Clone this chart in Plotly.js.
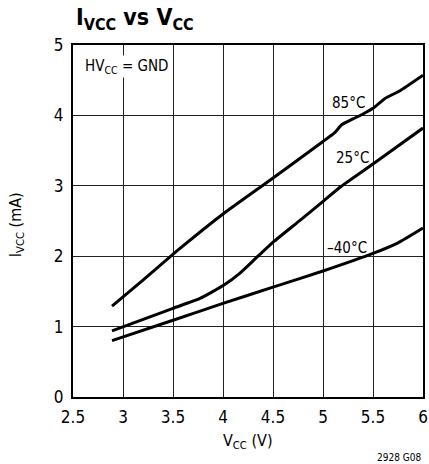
<!DOCTYPE html>
<html>
<head>
<meta charset="utf-8">
<script src="https://cdn.plot.ly/plotly-3.0.1.min.js"></script>
<style>html,body{margin:0;padding:0;background:#fff;}#chart{width:429px;height:464px;}</style>
</head>
<body>
<div id="chart"></div>
<script>
// Data
const v85 = [2.89, 3.20, 3.57, 4.01, 4.47, 5.0, 5.12, 5.19, 5.30, 5.40, 5.50, 5.62, 5.77, 6.0];
const i85 = [1.29, 1.66, 2.11, 2.61, 3.08, 3.63, 3.76, 3.87, 3.95, 4.02, 4.10, 4.24, 4.35, 4.57];
const v25 = [2.89, 3.50, 3.77, 4.01, 4.17, 4.35, 4.51, 4.77, 5.01, 5.17, 5.51, 6.0];
const i25 = [0.94, 1.26, 1.40, 1.59, 1.76, 2.00, 2.21, 2.51, 2.79, 2.98, 3.32, 3.82];
const vm40 = [2.89, 3.50, 4.00, 4.50, 5.00, 5.50, 5.75, 6.0];
const im40 = [0.80, 1.09, 1.33, 1.56, 1.79, 2.04, 2.19, 2.40];
const curveLabels = ['85°C', '25°C', '–40°C'];
const labelV = [5.25, 5.29, 5.24];
const labelI = [4.17, 3.39, 2.12];
const xTicks = [2.5, 3, 3.5, 4, 4.5, 5, 5.5, 6];
const yTicks = [0, 1, 2, 3, 4, 5];

const FONT = '"DejaVu Sans Condensed", "Liberation Sans Narrow", "Liberation Sans", Arial, sans-serif';
const lineStyle = {color: '#000', width: 3, shape: 'spline', smoothing: 0.5};
const traces = [
  {x: v85, y: i85, mode: 'lines', line: lineStyle, hoverinfo: 'skip'},
  {x: v25, y: i25, mode: 'lines', line: lineStyle, hoverinfo: 'skip'},
  {x: vm40, y: im40, mode: 'lines', line: lineStyle, hoverinfo: 'skip'}
];

const annotations = curveLabels.map((t, k) => ({
  x: labelV[k], y: labelI[k], xref: 'x', yref: 'y', text: t, showarrow: false,
  font: {family: FONT, size: 15, color: '#000'}, xanchor: 'center', yanchor: 'middle'
}));
annotations.push(
  {x: 2.6, y: 4.70, xref: 'x', yref: 'y', text: 'HV<sub>CC</sub> = GND', showarrow: false,
   font: {family: FONT, size: 15, color: '#000'}, xanchor: 'left', yanchor: 'middle', bgcolor: '#fff'},
  {x: 0.004, y: 1.075, xref: 'paper', yref: 'paper', text: '<b>I<sub>VCC</sub> vs V<sub>CC</sub></b>', showarrow: false,
   font: {family: FONT, size: 23, color: '#000'}, xanchor: 'left', yanchor: 'middle'},
  {x: 0.5, y: -0.125, xref: 'paper', yref: 'paper', text: 'V<sub>CC</sub> (V)', showarrow: false,
   font: {family: FONT, size: 16, color: '#000'}, xanchor: 'center', yanchor: 'middle'},
  {x: -0.161, y: 0.49, xref: 'paper', yref: 'paper', text: 'I<sub>VCC</sub> (mA)', showarrow: false, textangle: -90,
   font: {family: FONT, size: 16, color: '#000'}, xanchor: 'center', yanchor: 'middle'},
  {x: 1.0, y: -0.15, xref: 'paper', yref: 'paper', text: '2928 G08', showarrow: false,
   font: {family: FONT, size: 10, color: '#000'}, xanchor: 'right', yanchor: 'top'}
);

const layout = {
  width: 429, height: 464,
  margin: {l: 73, r: 6, t: 45, b: 67},
  paper_bgcolor: '#fff', plot_bgcolor: '#fff',
  showlegend: false,
  font: {family: FONT, size: 16, color: '#000'},
  xaxis: {
    range: [2.5, 6], tickvals: xTicks, ticktext: xTicks.map(String),
    showgrid: true, gridcolor: '#222', gridwidth: 1,
    showline: true, linecolor: '#000', linewidth: 2, mirror: true,
    ticks: '', zeroline: false, fixedrange: true, ticklabelstandoff: 4,
    tickfont: {family: FONT, size: 17, color: '#000'}
  },
  yaxis: {
    range: [0, 5], tickvals: yTicks, ticktext: yTicks.map(String),
    showgrid: true, gridcolor: '#222', gridwidth: 1,
    showline: true, linecolor: '#000', linewidth: 2, mirror: true,
    ticks: '', zeroline: false, fixedrange: true, ticklabelstandoff: 4,
    tickfont: {family: FONT, size: 17, color: '#000'}
  },
  annotations: annotations
};
Plotly.newPlot('chart', traces, layout, {displayModeBar: false, staticPlot: true});
</script>
</body>
</html>
